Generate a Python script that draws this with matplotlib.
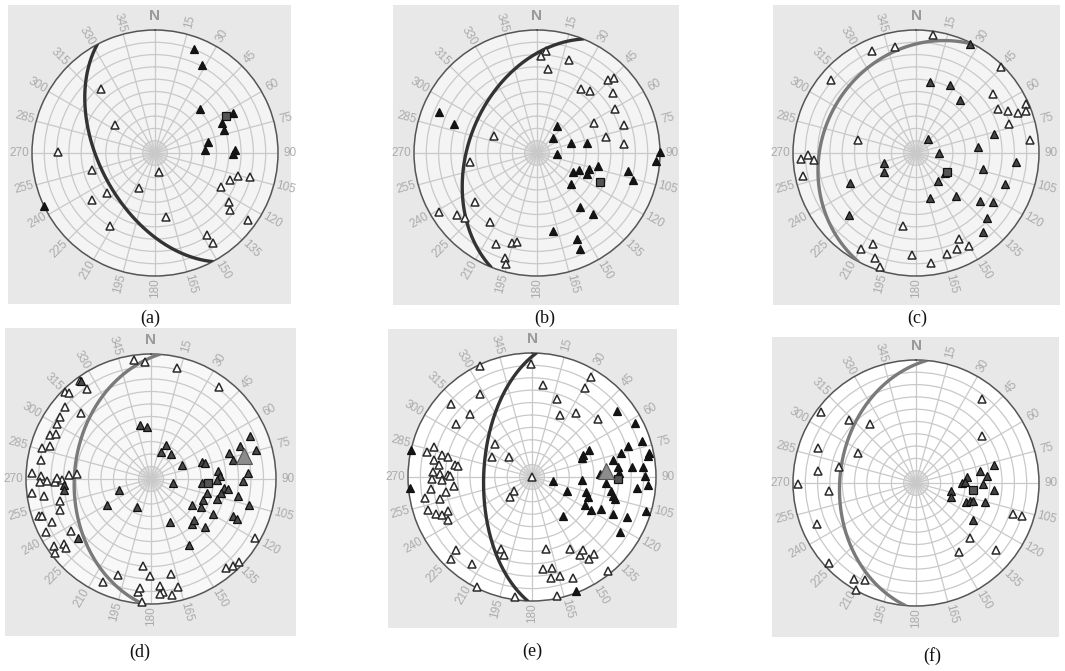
import numpy as np
import matplotlib
matplotlib.use("Agg")
import matplotlib.pyplot as plt
from matplotlib.patches import Rectangle

W, H = 1065, 671

# ---------------- data: azimuth (deg, clockwise from N), radius (fraction of net) ----
# panel (a)
a_open_az = [319.8, 305.3, 270.4, 254.7, 230.4, 233.0, 211.9, 204.6, 167.2, 170.5,
             147.3, 147.4, 117.4, 109.9, 105.3, 104.2, 123.5, 127.3, 125.8]
a_open_r = [0.68, 0.40, 0.79, 0.53, 0.51, 0.64, 0.70, 0.31, 0.16, 0.53,
            0.79, 0.87, 0.60, 0.65, 0.70, 0.80, 0.72, 0.77, 0.93]
a_fill_az = [20.7, 28.2, 45.6, 62.7, 66.0, 71.5, 78.5, 87.0, 87.6, 90.7, 244.3]
a_fill_r = [0.90, 0.81, 0.51, 0.71, 0.60, 0.595, 0.44, 0.41, 0.65, 0.635, 1.0]
a_sq_az = [62.3]
a_sq_r = [0.65]
a_plane = (242, 53)   # dip direction, dip

# panel (b)
b_open_az = [4.9, 2.2, 7.2, 19.0, 34.6, 40.4, 44.2, 45.7, 51.9, 60.3, 62.5, 72.0, 76.8,
             84.3, 291.6, 231.5, 239.2, 232.1, 228.2, 214.5, 204.4, 195.3, 192.5,
             196.8, 195.8, 262.7]
b_open_r = [0.83, 0.79, 0.69, 0.80, 0.63, 0.66, 0.83, 0.875, 0.79, 0.73, 0.52, 0.745, 0.58,
            0.71, 0.375, 0.64, 0.93, 0.82, 0.79, 0.68, 0.81, 0.76, 0.74,
            0.89, 0.935, 0.55]
b_fill_az = [292.4, 289.1, 36.8, 46.2, 74.1, 79.0, 92.9, 89.7, 93.7, 117.6, 112.0, 107.5,
             112.6, 101.7, 101.1, 105.7, 132.7, 141.4, 137.4, 168.7, 154.8, 155.8]
b_fill_r = [0.865, 0.71, 0.27, 0.18, 0.29, 0.41, 0.16, 1.0, 0.97, 0.33, 0.37, 0.44,
            0.44, 0.505, 0.75, 0.81, 0.375, 0.56, 0.675, 0.65, 0.77, 0.86]
b_sq_az = [114.6]
b_sq_r = [0.56]
b_plane = (292, 44)

# panel (c)
c_open_az = [8.2, 348.7, 336.7, 310.9, 44.6, 52.8, 61.6, 65.4, 68.6, 66.2, 69.2, 72.6,
             83.5, 282.6, 266.9, 269.0, 266.1, 258.3, 190.1, 209.6, 205.2, 201.4, 197.7,
             182.2, 172.1, 162.9, 156.9, 153.7, 150.2]
c_open_r = [0.97, 0.88, 0.90, 0.91, 0.98, 0.79, 0.76, 0.82, 0.895, 0.98, 0.96, 0.79,
            0.93, 0.48, 0.94, 0.88, 0.83, 0.94, 0.60, 0.90, 0.82, 0.92, 0.97,
            0.83, 0.90, 0.86, 0.85, 0.78, 0.875]
c_fill_az = [10.8, 26.8, 39.5, 41.3, 89.2, 76.3, 84.2, 94.9, 103.7, 109.2, 124.7, 142.3,
             163.2, 137.3, 126.5, 122.4, 132.6, 139.8, 253.0, 239.0, 245.4, 227.4, 26.5]
c_fill_r = [0.59, 0.62, 0.56, 0.15, 0.19, 0.65, 0.51, 0.82, 0.56, 0.77, 0.29, 0.29,
            0.38, 0.48, 0.65, 0.74, 0.78, 0.84, 0.27, 0.30, 0.59, 0.74, 0.99]
c_sq_az = [121.6]
c_sq_r = [0.30]
c_plane = (298, 25)

# panel (d)
d_open_az = [351.7, 357.2, 13.2, 36.5, 323.9, 315.1, 316.5, 324.6, 309.8, 313.5, 304.0,
             300.5, 293.8, 295.4, 285.8, 288.0, 280.0, 272.9, 271.7, 268.7, 268.0, 268.3,
             269.6, 273.0, 274.2, 270.6, 263.3, 261.2, 256.7, 251.1, 251.9, 251.1, 246.5,
             243.4, 237.0, 235.5, 233.5, 231.0, 232.3, 204.9, 199.0, 185.5, 180.4, 186.6,
             185.9, 184.2, 175.4, 174.1, 175.3, 168.0, 169.7, 166.2, 140.1, 136.6, 133.5,
             119.5]
d_open_r = [0.96, 0.94, 0.91, 0.92, 0.97, 0.98, 0.95, 0.88, 0.90, 0.77, 0.88,
            0.87, 0.88, 0.84, 0.91, 0.85, 0.89, 0.95, 0.88, 0.83, 0.77, 0.885,
            0.71, 0.66, 0.59, 0.75, 0.96, 0.87, 0.75, 0.77, 0.945, 0.92, 0.86,
            0.94, 0.76, 0.94, 0.87, 0.875, 0.97, 0.91, 0.81, 0.70, 0.78, 0.91,
            0.88, 0.99, 0.86, 0.91, 0.92, 0.78, 0.94, 0.89, 0.93, 0.96, 0.97,
            0.96]
d_fill_az = [348.8, 355.7, 24.1, 21.2, 38.7, 66.2, 100.5, 250.7, 240.1, 207.1, 155.8,
             150.5, 71.9, 74.0, 71.7, 77.1, 69.8, 66.8, 74.3, 83.5, 87.2, 90.6, 94.4,
             86.5, 91.0, 97.1, 97.2, 101.4, 106.8, 104.0, 111.4, 101.3, 104.7, 122.7,
             119.4, 119.6, 137.5, 133.7, 131.8, 114.6, 114.9, 266.3, 262.5, 231.0, 324.5]
d_fill_r = [0.44, 0.42, 0.30, 0.23, 0.26, 0.27, 0.18, 0.27, 0.41, 0.25, 0.38,
            0.61, 0.43, 0.45, 0.66, 0.67, 0.76, 0.865, 0.87, 0.54, 0.555, 0.53, 0.41,
            0.78, 0.74, 0.585, 0.62, 0.57, 0.55, 0.46, 0.45, 0.71, 0.81, 0.39,
            0.46, 0.57, 0.485, 0.48, 0.58, 0.72, 0.76, 0.70, 0.70, 0.75, 0.96]
d_sq_az = [94.0]
d_sq_r = [0.46]
d_big_az = [76.0]
d_big_r = [0.77]
d_plane = (274, 38.6)

# panel (e)
e_open_az = [334.7, 359.3, 6.8, 30.5, 30.9, 17.7, 23.9, 34.7, 48.8, 327.6, 311.9, 315.3,
             304.7, 311.5, 296.6, 311.0, 0.0, 232.4, 226.8, 283.3, 286.9, 280.1, 283.8,
             283.4, 277.6, 278.6, 278.3, 272.7, 272.0, 271.1, 271.0, 268.9, 267.9, 263.1,
             260.1, 263.2, 256.7, 258.9, 252.6, 249.0, 246.9, 247.6, 243.1, 226.2, 224.5,
             214.5, 206.7, 203.0, 199.9, 187.9, 168.7, 173.2, 167.5, 169.5, 164.1, 158.2,
             168.1, 152.2, 148.8, 144.8, 145.1, 141.1, 141.1]
e_open_r = [0.99, 0.91, 0.75, 0.94, 0.84, 0.66, 0.55, 0.63, 0.71, 0.79, 0.88, 0.71,
            0.75, 0.40, 0.36, 0.25, 0.0, 0.18, 0.24, 0.87, 0.83, 0.80, 0.75,
            0.70, 0.76, 0.63, 0.60, 0.80, 0.74, 0.68, 0.66, 0.81, 0.73, 0.63,
            0.70, 0.82, 0.76, 0.88, 0.88, 0.83, 0.79, 0.73, 0.76, 0.85, 0.93,
            0.85, 0.99, 0.63, 0.67, 0.98, 0.59, 0.75, 0.75, 0.83, 0.83, 0.88,
            0.98, 0.66, 0.74, 0.72, 0.81, 0.80, 0.97]
e_fill_az = [52.4, 62.4, 71.9, 72.2, 74.9, 78.4, 79.6, 64.6, 66.6, 69.0, 77.9, 83.4,
             84.3, 84.9, 87.2, 87.4, 89.7, 99.9, 93.0, 94.6, 93.8, 96.0, 112.3, 105.7,
             109.4, 100.2, 103.4, 104.9, 117.7, 119.1, 115.0, 114.5, 113.0, 106.4, 121.9,
             141.8, 158.8, 282.8, 264.8]
e_fill_r = [0.87, 0.94, 0.93, 0.81, 0.74, 0.96, 0.95, 0.51, 0.45, 0.43, 0.67, 0.70,
            0.81, 0.90, 0.55, 0.70, 0.91, 0.17, 0.40, 0.60, 0.94, 0.85, 0.305, 0.45,
            0.48, 0.65, 0.67, 0.69, 0.48, 0.54, 0.61, 0.72, 0.83, 0.96, 0.84,
            0.40, 0.99, 1.0, 0.985]
e_sq_az = [91.3]
e_sq_r = [0.69]
e_big_az = [85.6]
e_big_r = [0.60]
e_plane = (272, 58)

# panel (f)
f_open_az = [38.2, 54.7, 306.9, 313.2, 322.3, 289.7, 297.6, 276.8, 281.6, 269.5, 264.5,
             247.7, 227.4, 213.0, 207.5, 209.2, 107.6, 107.2, 135.7, 147.6, 129.8]
f_open_r = [0.87, 0.66, 0.965, 0.75, 0.61, 0.85, 0.53, 0.80, 0.64, 0.96, 0.71,
            0.87, 0.96, 0.93, 0.89, 1.0, 0.83, 0.90, 0.63, 0.66, 0.85]
f_fill_az = [77.2, 79.0, 84.1, 83.3, 90.0, 89.2, 90.9, 95.4, 102.6, 112.3, 111.1, 108.9,
             107.8, 105.5, 123.2]
f_fill_r = [0.65, 0.53, 0.58, 0.42, 0.375, 0.40, 0.546, 0.64, 0.29, 0.31, 0.44, 0.46,
            0.49, 0.58, 0.55]
f_sq_az = [96.6]
f_sq_r = [0.47]
f_plane = (275, 38)

captions = ["(a)", "(b)", "(c)", "(d)", "(e)", "(f)"]

# ---------------- layout (pixels) ----------------
centers = [(155, 153, 123), (537, 153, 123), (916, 153, 123),
           (151, 479, 125), (532, 477, 124), (916, 483, 123)]
boxes = [(8, 5, 291, 304), (393, 5, 679, 305), (773, 5, 1060, 305),
         (5, 328, 296, 636), (388, 329, 677, 628), (772, 337, 1059, 637)]
cap_pos = [(150, 318), (545, 318), (917, 318), (140, 652), (532, 651), (932, 656)]
inner_fc = ['#f4f4f4', '#f4f4f4', '#f4f4f4', '#f8f8f8', '#ffffff', '#ffffff']
arc_col = ['#333333', '#333333', '#7a7a7a', '#7a7a7a', '#333333', '#7a7a7a']
fill_col = ['#151515', '#151515', '#444444', '#4a4a4a', '#151515', '#444444']

panels = [
    (a_open_az, a_open_r, a_fill_az, a_fill_r, a_sq_az, a_sq_r, [], [], a_plane),
    (b_open_az, b_open_r, b_fill_az, b_fill_r, b_sq_az, b_sq_r, [], [], b_plane),
    (c_open_az, c_open_r, c_fill_az, c_fill_r, c_sq_az, c_sq_r, [], [], c_plane),
    (d_open_az, d_open_r, d_fill_az, d_fill_r, d_sq_az, d_sq_r, d_big_az, d_big_r, d_plane),
    (e_open_az, e_open_r, e_fill_az, e_fill_r, e_sq_az, e_sq_r, e_big_az, e_big_r, e_plane),
    (f_open_az, f_open_r, f_fill_az, f_fill_r, f_sq_az, f_sq_r, [], [], f_plane),
]


def great_circle(dd, dip, n=200):
    """Equal-area (lower hemisphere) projection of a plane."""
    strike = np.deg2rad(dd - 90)
    d = np.deg2rad(dd)
    dp = np.deg2rad(dip)
    phi = np.linspace(0, np.pi, n)
    sv = np.array([np.sin(strike), np.cos(strike), 0.0])
    dv = np.array([np.sin(d) * np.cos(dp), np.cos(d) * np.cos(dp), np.sin(dp)])
    v = np.outer(np.cos(phi), sv) + np.outer(np.sin(phi), dv)
    plunge = np.arcsin(np.clip(v[:, 2], -1, 1))
    trend = np.arctan2(v[:, 0], v[:, 1])
    r = np.sqrt(2) * np.sin((np.pi / 2 - plunge) / 2)
    return trend, r


fig = plt.figure(figsize=(W / 100, H / 100), dpi=100)
fig.patch.set_facecolor('white')

lab_col = '#ababab'
grid_col = '#c9c9c9'

for i, (oaz, orr, faz, frr, saz, srr, baz, brr, plane) in enumerate(panels):
    x0, y0, x1, y1 = boxes[i]
    fig.add_artist(Rectangle((x0 / W, 1 - y1 / H), (x1 - x0) / W, (y1 - y0) / H,
                             transform=fig.transFigure, facecolor='#e8e8e8',
                             edgecolor='none', zorder=-5))
    cx, cy, R = centers[i]
    ax = fig.add_axes([(cx - R) / W, 1 - (cy + R) / H, 2 * R / W, 2 * R / H],
                      projection='polar')
    ax.set_theta_zero_location('N')
    ax.set_theta_direction(-1)
    ax.set_ylim(0, 1)
    ax.set_facecolor(inner_fc[i])
    ax.set_rticks(np.arange(0.1, 1.0, 0.1))
    ax.set_yticklabels([])
    ax.set_xticks(np.deg2rad(np.arange(0, 360, 15)))
    ax.set_xticklabels([])
    ax.tick_params(length=0)
    ax.grid(True, color=grid_col, lw=0.9)
    ax.spines['polar'].set_color('#555555')
    ax.spines['polar'].set_linewidth(1.1)
    # fine star at the centre
    for a in range(0, 360, 5):
        th = np.deg2rad(a)
        ax.plot([th, th], [0, 0.1], color='#d2d2d2', lw=0.35, zorder=1)
    # azimuth labels
    for a in range(0, 360, 15):
        th = np.deg2rad(a)
        if a == 0:
            ax.text(th, 1.115, 'N', ha='center', va='center', fontsize=11,
                    color='#9a9a9a', fontweight='bold', family='Liberation Sans',
                    clip_on=False)
            continue
        rot = (90 - a) % 180
        if rot > 90:
            rot -= 180
        ax.text(th, 1.1, str(a), rotation=rot, rotation_mode='anchor',
                ha='center', va='center', fontsize=8.5, color=lab_col,
                family='Liberation Sans', clip_on=False)
    # great circle
    tr, rr = great_circle(*plane)
    ax.plot(tr, rr, color=arc_col[i], lw=2.4, zorder=3, solid_capstyle='round')
    # points
    ax.plot(np.deg2rad(oaz), orr, ls='none', marker='^', ms=6, mfc='white',
            mec='#2a2a2a', mew=1.1, zorder=4, clip_on=False)
    ax.plot(np.deg2rad(faz), frr, ls='none', marker='^', ms=6, mfc=fill_col[i],
            mec='#111111', mew=0.9, zorder=5, clip_on=False)
    ax.plot(np.deg2rad(saz), srr, ls='none', marker='s', ms=5.5, mfc='#555555',
            mec='#111111', mew=0.9, zorder=6, clip_on=False)
    if baz:
        ax.plot(np.deg2rad(baz), brr, ls='none', marker='^', ms=11, mfc='#8c8c8c',
                mec='#555555', mew=0.8, zorder=6, clip_on=False)
    cxp, cyp = cap_pos[i]
    fig.text(cxp / W, 1 - cyp / H, captions[i], ha='center', va='center',
             fontsize=13, family='Liberation Serif', color='#111111')

fig.savefig('out.png', dpi=100)
